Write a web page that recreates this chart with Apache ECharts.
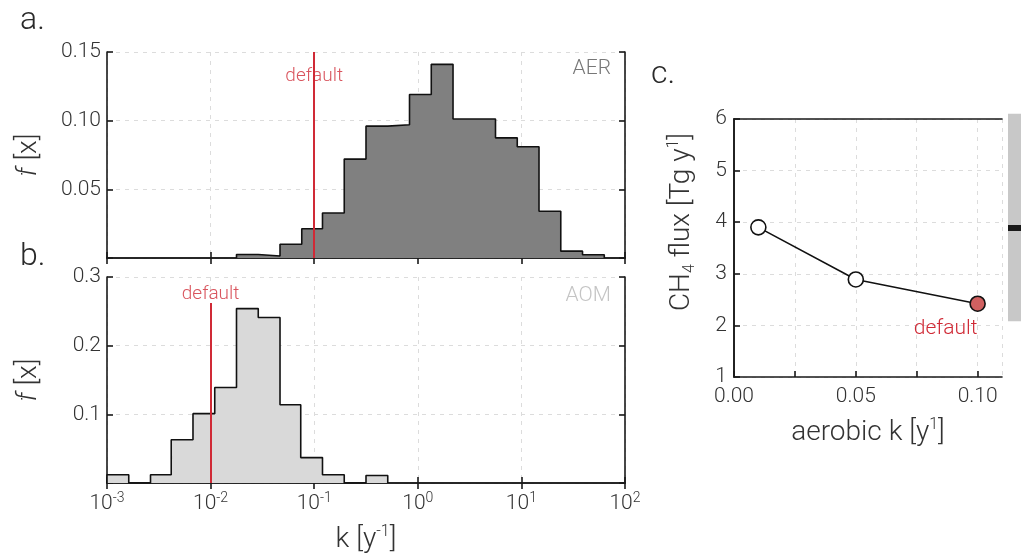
<!DOCTYPE html>
<html>
<head>
<meta charset="utf-8">
<script src="https://cdn.jsdelivr.net/npm/echarts@6/dist/echarts.min.js"></script>
<style>
html,body{margin:0;padding:0;background:#fff;}
#chart{width:1021px;height:555px;}
</style>
</head>
<body>
<div id="chart"></div>
<script>
// ---------------- DATA ----------------
// AER histogram: bin edges (log10 k) and frequencies
const aerLogEdges = [-1.75, -1.54, -1.33, -1.12, -0.92, -0.71, -0.50, -0.29, -0.08, 0.13, 0.34, 0.54, 0.75, 0.96, 1.17, 1.38, 1.59, 1.80];
const aerFreq = [0.0025, 0.0015, 0.0100, 0.0213, 0.0328, 0.0720, 0.0960, 0.0970, 0.1190, 0.1410, 0.1012, 0.1012, 0.0875, 0.0810, 0.0340, 0.0050, 0.0024];
// AOM histogram
const aomLogEdges = [-3.00, -2.79, -2.58, -2.38, -2.17, -1.96, -1.75, -1.54, -1.33, -1.13, -0.92, -0.71, -0.50, -0.29];
const aomFreq = [0.012, 0.000, 0.012, 0.063, 0.101, 0.139, 0.254, 0.241, 0.114, 0.037, 0.012, 0.000, 0.011];
// default k values
const aerDefaultK = 0.1;
const aomDefaultK = 0.01;
// panel c
const aerobicK = [0.01, 0.05, 0.10];
const ch4Flux = [3.90, 2.89, 2.42];
const defaultIndex = 2;
// grey range bar on right edge of panel c
const obsRange = [2.08, 6.10];
const obsMark = 3.89;
// tick labels
const aerYTicks = ['0.05', '0.10', '0.15'];
const aomYTicks = ['0.1', '0.2', '0.3'];
const cXTicks = ['0.00', '0.05', '0.10'];

// ---------------- STYLE ----------------
const FONT = 'Roboto';
const FW = 300;
const TXT = '#333';
const RED = '#d02a36';
const gridLine = {show: true, lineStyle: {color: '#dcdcdc', type: [4, 5], width: 1}};
const frameLine = {show: true, lineStyle: {color: '#1a1a1a', width: 1.6}};
const inTick = {show: true, inside: true, length: 6, lineStyle: {color: '#1a1a1a', width: 1.6}};

function stepData(logEdges, freq) {
  const d = [[Math.pow(10, logEdges[0]), 0]];
  for (let i = 0; i < freq.length; i++) d.push([Math.pow(10, logEdges[i]), freq[i]]);
  d.push([Math.pow(10, logEdges[logEdges.length - 1]), 0]);
  return d;
}
function logLabel(v) {
  const e = Math.round(Math.log10(v));
  return '{b|10}{s|' + e + '}';
}
const logRich = {
  b: {fontSize: 21, fontFamily: FONT, fontWeight: FW, color: TXT, lineHeight: 25},
  s: {fontSize: 14, fontFamily: FONT, fontWeight: FW, color: TXT, lineHeight: 13, verticalAlign: 'top'}
};
const TS = 28;
const titleRich = {
  t: {fontSize: TS, fontFamily: FONT, fontWeight: FW, color: TXT, lineHeight: 32},
  i: {fontSize: TS, fontFamily: FONT, fontWeight: FW, fontStyle: 'italic', color: TXT, lineHeight: 32},
  s: {fontSize: 16, fontFamily: FONT, fontWeight: FW, color: TXT, lineHeight: 16, verticalAlign: 'top'},
  d: {fontSize: 16, fontFamily: FONT, fontWeight: FW, color: TXT, lineHeight: 16, verticalAlign: 'bottom'}
};

function logX(grid, pos, labels, name) {
  return {
    type: 'log', logBase: 10, gridIndex: grid, position: pos, min: 0.001, max: 100,
    axisLine: frameLine, axisTick: inTick,
    splitLine: pos === 'bottom' ? gridLine : {show: false},
    axisLabel: labels ? {show: true, formatter: logLabel, rich: logRich, margin: 8} : {show: false},
    name: name || '', nameLocation: 'middle', nameGap: 41, nameTextStyle: {rich: titleRich}
  };
}
const tickLabel = {fontSize: 21, fontFamily: FONT, fontWeight: FW, color: TXT};

const chart = echarts.init(document.getElementById('chart'), null, {renderer: 'canvas'});
const option = {
  animation: false,
  backgroundColor: '#fff',
  grid: [
    {left: 107, right: 396, top: 52, height: 206},
    {left: 107, right: 396, top: 277, height: 207},
    {left: 734, top: 119, width: 268, height: 258},
    {left: 1008, top: 119, width: 40, height: 258}
  ],
  xAxis: [
    logX(0, 'bottom', false),
    logX(0, 'top', false),
    logX(1, 'bottom', true, '{t|k [y}{s|-1}{t|]}'),
    logX(1, 'top', false),
    {
      type: 'value', gridIndex: 2, min: 0, max: 0.11, interval: 0.025, position: 'bottom',
      axisLine: frameLine, axisTick: inTick, splitLine: gridLine,
      axisLabel: Object.assign({
        showMaxLabel: false, margin: 9,
        formatter: v => {
          const idx = cXTicks.indexOf(v.toFixed(2));
          return (Math.abs(v * 20 - Math.round(v * 20)) < 1e-6 && idx >= 0) ? cXTicks[idx] : '';
        }
      }, tickLabel),
      name: '{t|aerobic k [y}{s|1}{t|]}', nameLocation: 'middle', nameGap: 40, nameTextStyle: {rich: titleRich}
    },
    {type: 'value', gridIndex: 2, min: 0, max: 0.11, position: 'top', axisLine: frameLine,
      axisTick: {show: false}, axisLabel: {show: false}, splitLine: {show: false}},
    {type: 'value', gridIndex: 3, min: 0, max: 1, show: false}
  ],
  yAxis: [
    {
      type: 'value', gridIndex: 0, min: 0, max: 0.15, interval: 0.05, position: 'left',
      axisLine: frameLine, axisTick: inTick, splitLine: gridLine,
      axisLabel: Object.assign({margin: 6,
        formatter: v => { const s = v.toFixed(2); return aerYTicks.indexOf(s) >= 0 ? s : ''; }}, tickLabel),
      name: '{i|f}{t| [x]}', nameLocation: 'middle', nameGap: 62, nameTextStyle: {rich: titleRich}
    },
    {type: 'value', gridIndex: 0, min: 0, max: 0.15, interval: 0.05, position: 'right',
      axisLine: frameLine, axisTick: inTick, axisLabel: {show: false}, splitLine: {show: false}},
    {
      type: 'value', gridIndex: 1, min: 0, max: 0.3, interval: 0.1, position: 'left',
      axisLine: frameLine, axisTick: inTick, splitLine: gridLine,
      axisLabel: Object.assign({margin: 6,
        formatter: v => { const s = v.toFixed(1); return aomYTicks.indexOf(s) >= 0 ? s : ''; }}, tickLabel),
      name: '{i|f}{t| [x]}', nameLocation: 'middle', nameGap: 62, nameTextStyle: {rich: titleRich}
    },
    {type: 'value', gridIndex: 1, min: 0, max: 0.3, interval: 0.1, position: 'right',
      axisLine: frameLine, axisTick: inTick, axisLabel: {show: false}, splitLine: {show: false}},
    {
      type: 'value', gridIndex: 2, min: 1, max: 6, interval: 1, position: 'left',
      axisLine: frameLine, axisTick: inTick, splitLine: gridLine,
      axisLabel: Object.assign({margin: 7}, tickLabel),
      name: '{t|CH}{d|4}{t| flux [Tg y}{s|1}{t|]}', nameLocation: 'middle', nameGap: 36,
      nameTextStyle: {rich: titleRich, padding: [0, 0, 0, 52]}
    },
    {type: 'value', gridIndex: 2, min: 1, max: 6, position: 'right', axisLine: frameLine,
      axisTick: {show: false}, axisLabel: {show: false}, splitLine: {show: false}},
    {type: 'value', gridIndex: 3, min: 1, max: 6, show: false}
  ],
  series: [
    {
      type: 'line', name: 'AER', xAxisIndex: 0, yAxisIndex: 0, step: 'end', symbol: 'none',
      data: stepData(aerLogEdges, aerFreq),
      lineStyle: {color: '#111', width: 1.6}, areaStyle: {color: '#808080', opacity: 1},
      markLine: {silent: true, symbol: 'none', label: {show: false},
        lineStyle: {color: RED, width: 2, type: 'solid'},
        data: [[{coord: [aerDefaultK, 0]}, {coord: [aerDefaultK, 0.15]}]]}
    },
    {
      type: 'line', name: 'AOM', xAxisIndex: 2, yAxisIndex: 2, step: 'end', symbol: 'none',
      data: stepData(aomLogEdges, aomFreq),
      lineStyle: {color: '#111', width: 1.6}, areaStyle: {color: '#d9d9d9', opacity: 1},
      markLine: {silent: true, symbol: 'none', label: {show: false},
        lineStyle: {color: RED, width: 2, type: 'solid'},
        data: [[{coord: [aomDefaultK, 0]}, {coord: [aomDefaultK, 0.262]}]]}
    },
    {
      type: 'scatter', xAxisIndex: 0, yAxisIndex: 0, symbolSize: 0, silent: true, z: 5,
      data: [[aerDefaultK, 0.132]],
      label: {show: true, position: 'inside', formatter: 'default', color: RED, fontSize: 19, fontFamily: FONT, fontWeight: FW}
    },
    {
      type: 'scatter', xAxisIndex: 2, yAxisIndex: 2, symbolSize: 0, silent: true, z: 5,
      data: [[aomDefaultK, 0.275]],
      label: {show: true, position: 'inside', formatter: 'default', color: RED, fontSize: 19, fontFamily: FONT, fontWeight: FW}
    },
    {
      type: 'line', xAxisIndex: 4, yAxisIndex: 4, symbol: 'circle', symbolSize: 15,
      lineStyle: {color: '#111', width: 1.6},
      itemStyle: {color: '#fff', borderColor: '#111', borderWidth: 1.6},
      data: aerobicK.map((k, i) => i === defaultIndex ? {
        value: [k, ch4Flux[i]],
        itemStyle: {color: '#d06060'},
        label: {show: true, position: 'bottom', distance: 6, offset: [-32, 0], formatter: 'default',
          color: RED, fontSize: 21, fontFamily: FONT, fontWeight: FW}
      } : {value: [k, ch4Flux[i]]}),
      z: 4
    },
    {
      type: 'custom', xAxisIndex: 6, yAxisIndex: 6, clip: false, silent: true,
      data: [[0, obsRange[0], obsRange[1], obsMark]],
      renderItem: function (params, api) {
        const lo = api.coord([api.value(0), api.value(1)]);
        const hi = api.coord([api.value(0), api.value(2)]);
        const mk = api.coord([api.value(0), api.value(3)]);
        return {type: 'group', children: [
          {type: 'rect', shape: {x: lo[0], y: hi[1], width: 40, height: lo[1] - hi[1]}, style: {fill: '#c8c8c8'}},
          {type: 'rect', shape: {x: lo[0], y: mk[1] - 3, width: 40, height: 6}, style: {fill: '#1a1a1a'}}
        ]};
      }
    }
  ],
  graphic: [
    {type: 'text', left: 20, top: 5, style: {text: 'a.', fontSize: 32, fontFamily: FONT, fontWeight: FW, fill: '#2a2a2a'}},
    {type: 'text', left: 20, top: 241, style: {text: 'b.', fontSize: 32, fontFamily: FONT, fontWeight: FW, fill: '#2a2a2a'}},
    {type: 'text', left: 651, top: 59, style: {text: 'c.', fontSize: 32, fontFamily: FONT, fontWeight: FW, fill: '#2a2a2a'}},
    {type: 'text', right: 410, top: 58, style: {text: 'AER', fontSize: 21, fontFamily: FONT, fontWeight: FW, fill: '#777'}},
    {type: 'text', right: 410, top: 285, style: {text: 'AOM', fontSize: 21, fontFamily: FONT, fontWeight: FW, fill: '#c4c4c4'}}
  ]
};
chart.setOption(option);
</script>
</body>
</html>
